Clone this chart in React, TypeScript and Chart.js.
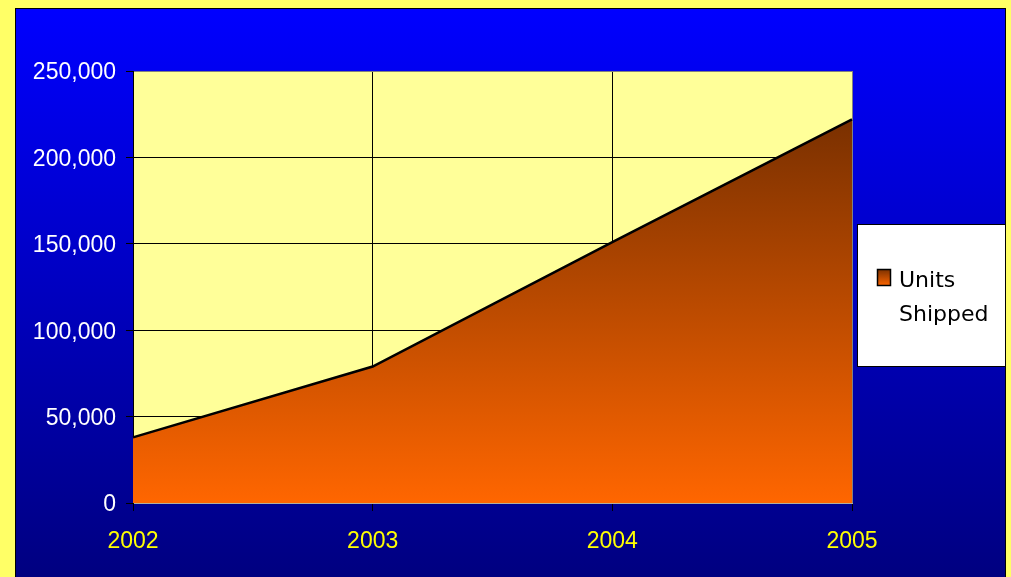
import React, { useEffect, useRef } from "react";
import { Chart, registerables } from "chart.js";

Chart.register(...registerables);

const years = ["2002", "2003", "2004", "2005"];
const unitsShipped = [38000, 79000, 151000, 222000];
const seriesLabel = "Units Shipped";
const yMin = 0;
const yMax = 250000;
const yStep = 50000;

const LABEL_FONT = '"Liberation Sans", Arial, sans-serif';

export default function App() {
  const ref = useRef<HTMLCanvasElement | null>(null);

  useEffect(() => {
    const canvas = ref.current;
    if (!canvas) return;

    const panelPlugin = {
      id: "panel",
      beforeDraw(chart: any) {
        const ctx = chart.ctx;
        const ca = chart.chartArea;
        ctx.save();
        const g = ctx.createLinearGradient(0, 8, 0, 577);
        g.addColorStop(0, "#0000FF");
        g.addColorStop(1, "#000080");
        ctx.fillStyle = g;
        ctx.fillRect(15, 8, 991, 570);
        ctx.strokeStyle = "#000000";
        ctx.lineWidth = 1;
        ctx.strokeRect(15.5, 8.5, 990, 572);
        ctx.fillStyle = "#FFFF99";
        ctx.fillRect(ca.left, ca.top, ca.right - ca.left, ca.bottom - ca.top);
        ctx.restore();
      },
      afterDraw(chart: any) {
        const ctx = chart.ctx;
        ctx.save();
        // legend box
        ctx.fillStyle = "#FFFFFF";
        ctx.fillRect(857, 224, 149, 143);
        ctx.strokeStyle = "#000000";
        ctx.lineWidth = 1;
        ctx.strokeRect(857.5, 224.5, 148, 142);
        // swatch
        const sg = ctx.createLinearGradient(0, 269, 0, 286);
        sg.addColorStop(0, "#7A3000");
        sg.addColorStop(1, "#FF6600");
        ctx.fillStyle = sg;
        ctx.fillRect(877, 269, 14, 17);
        ctx.lineWidth = 1.5;
        ctx.strokeRect(877.5, 269.5, 13, 16);
        ctx.fillStyle = "#000000";
        ctx.font = '22px "DejaVu Sans", sans-serif';
        ctx.textBaseline = "alphabetic";
        ctx.textAlign = "left";
        const words = String(chart.data.datasets[0].label).split(" ");
        words.forEach((w: string, i: number) => {
          ctx.fillText(w, 899, 287 + i * 34);
        });
        ctx.restore();
      },
    };

    const chart = new Chart(canvas, {
      type: "line",
      data: {
        labels: years,
        datasets: [
          {
            label: seriesLabel,
            data: unitsShipped,
            borderColor: "#000000",
            borderWidth: 2.5,
            pointRadius: 0,
            tension: 0,
            fill: "origin",
            backgroundColor: (c: any) => {
              const ch = c.chart;
              const ca = ch.chartArea;
              if (!ca) return "#FF6600";
              const top = ch.scales.y.getPixelForValue(Math.max(...unitsShipped));
              const g = ch.ctx.createLinearGradient(0, top, 0, ca.bottom);
              g.addColorStop(0, "#7A3000");
              g.addColorStop(1, "#FF6600");
              return g;
            },
          },
        ],
      },
      options: {
        animation: false,
        responsive: false,
        maintainAspectRatio: false,
        layout: { padding: { left: 0, right: 159, top: 71, bottom: 0 } },
        plugins: {
          legend: { display: false },
          tooltip: { enabled: false },
        },
        scales: {
          x: {
            type: "category",
            offset: false,
            afterFit: (s: any) => {
              s.height = 74;
            },
            grid: {
              color: (c: any) => (c.index === years.length - 1 ? "#808080" : "#000000"),
              tickColor: "#000000",
              tickLength: 8,
              lineWidth: 1,
            },
            border: { color: "#B0B0A0", width: 1 },
            ticks: {
              color: "#FFFF00",
              padding: 17,
              maxRotation: 0,
              font: { family: LABEL_FONT, size: 23 },
            },
          },
          y: {
            min: yMin,
            max: yMax,
            afterFit: (s: any) => {
              s.width = 133;
            },
            grid: {
              color: (c: any) => (c.tick && c.tick.value === yMax ? "#808080" : "#000000"),
              tickColor: "#000000",
              tickLength: 7,
              lineWidth: 1,
            },
            border: { color: "#000000", width: 1 },
            ticks: {
              stepSize: yStep,
              color: "#FFFFFF",
              padding: 10,
              labelOffset: 2,
              font: { family: LABEL_FONT, size: 23 },
              callback: (v: any) => Number(v).toLocaleString("en-US"),
            },
          },
        },
      },
      plugins: [panelPlugin],
    });

    return () => chart.destroy();
  }, []);

  return (
    <div
      style={{
        position: "absolute",
        left: 0,
        top: 0,
        width: 1011,
        height: 577,
        background: "#FFFF66",
        overflow: "hidden",
      }}
    >
      <canvas ref={ref} width={1011} height={577} style={{ display: "block", width: 1011, height: 577 }} />
    </div>
  );
}
